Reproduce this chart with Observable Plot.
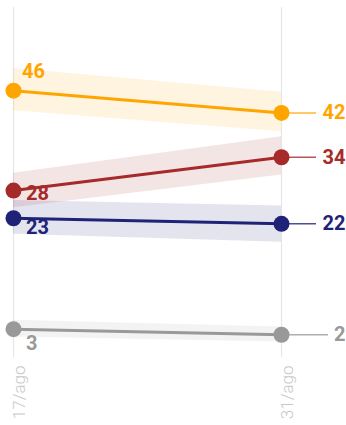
<!DOCTYPE html>
<html><head><meta charset="utf-8">
<script src="https://cdn.jsdelivr.net/npm/d3@7"></script>
<script src="https://cdn.jsdelivr.net/npm/@observablehq/plot@0.6"></script>
<style>
html,body{margin:0;padding:0;background:#fff;}
#chart{font-family:Roboto,"Noto Sans",sans-serif;}
</style>
</head><body><div id="chart"></div>
<script>
// ---- data ----
const dates = ["17/ago", "31/ago"];
const seriesNames = ["Série 1", "Série 2", "Série 3", "Série 4"];
const startValues = [46, 28, 23, 3];
const endValues = [42, 34, 22, 2];
const startLow = [42.4, 24.9, 20.1, 1.6];
const startHigh = [50.0, 31.1, 26.2, 4.6];
const endLow = [38.6, 30.8, 18.7, 0.7];
const endHigh = [45.7, 37.7, 25.2, 3.4];

// ---- styles ----
const colors = ["#ffa500", "#a62a2a", "#1f2378", "#999999"];
const leftLabelDx = [8.5, 12.5, 12.5, 12.5];
const leftLabelDy = [-19, 3, 9, 14];

const rows = seriesNames.flatMap((s, i) => [
  {series: s, date: dates[0], value: startValues[i], low: startLow[i], high: startHigh[i]},
  {series: s, date: dates[1], value: endValues[i], low: endLow[i], high: endHigh[i]}
]);
const startRows = rows.filter(d => d.date === dates[0]);
const endRows = rows.filter(d => d.date === dates[1]);

const labelFont = {fontSize: 20, fontWeight: "bold"};

const leftLabels = seriesNames.map((s, i) =>
  Plot.text(startRows.filter(d => d.series === s), {
    x: "date", y: "value", text: d => String(d.value), fill: "series",
    textAnchor: "start", dx: leftLabelDx[i], dy: leftLabelDy[i], ...labelFont
  })
);

const chart = Plot.plot({
  width: 346,
  height: 425,
  marginTop: 7,
  marginBottom: 68,
  marginLeft: 12.5,
  marginRight: 65,
  style: {fontFamily: "Roboto, 'Noto Sans', sans-serif", background: "#fff"},
  x: {type: "point", domain: dates, padding: 0},
  y: {domain: [-2.1, 61], axis: null},
  color: {domain: seriesNames, range: colors},
  marks: [
    Plot.gridX(dates, {stroke: "#e6e6e6", strokeOpacity: 1, strokeWidth: 1.2}),
    Plot.axisX({tickRotate: -90, tickSize: 0, tickPadding: 8, fontSize: 17, fontWeight: 300, color: "#c8c8c8", dx: 6, label: null}),
    Plot.areaY(rows, {x: "date", y1: "low", y2: "high", z: "series", fill: "series", fillOpacity: 0.12}),
    Plot.ruleY(endRows.filter(d => String(d.value).length > 1), {x1: "date", x2: "date", y: "value", stroke: "series", strokeWidth: 1.5, strokeOpacity: 0.8, insetRight: -35}),
    Plot.ruleY(endRows.filter(d => String(d.value).length === 1), {x1: "date", x2: "date", y: "value", stroke: "series", strokeWidth: 1.5, strokeOpacity: 0.8, insetRight: -47}),
    Plot.line(rows, {x: "date", y: "value", z: "series", stroke: "series", strokeWidth: 3}),
    Plot.dot(rows, {x: "date", y: "value", fill: "series", r: 8}),
    ...leftLabels,
    Plot.text(endRows, {x: "date", y: "value", text: d => String(d.value), fill: "series", textAnchor: "end", dx: 64, ...labelFont})
  ]
});
document.getElementById("chart").appendChild(chart);
</script>
</body></html>
